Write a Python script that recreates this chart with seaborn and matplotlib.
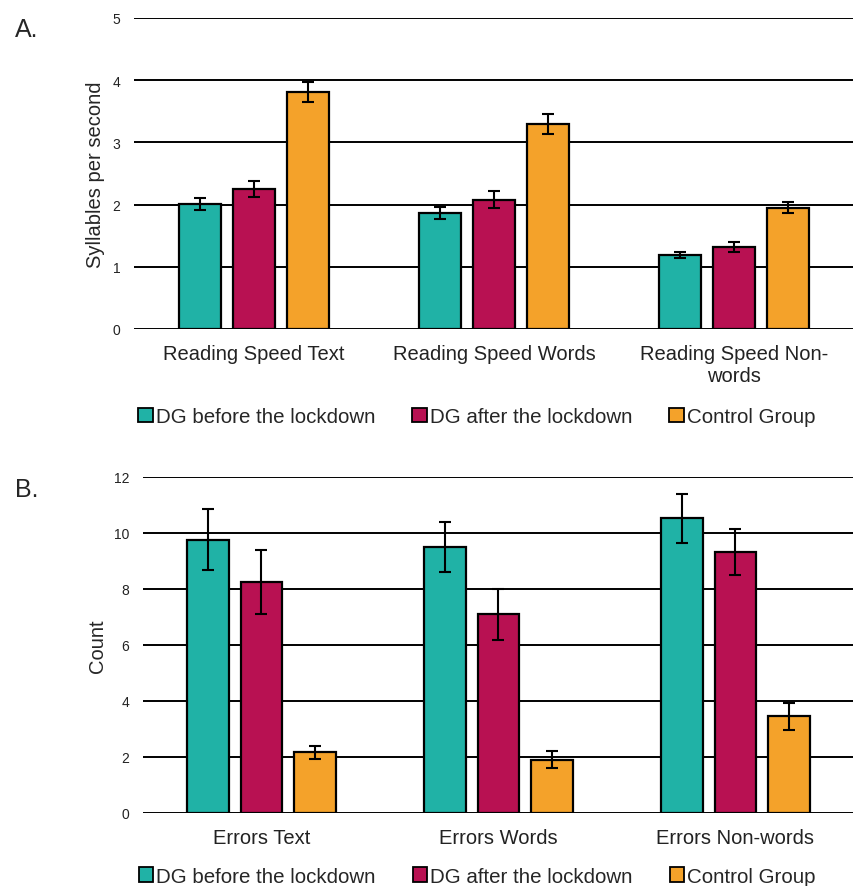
import matplotlib
matplotlib.use("Agg")
import matplotlib.pyplot as plt
from matplotlib.patches import Patch
import seaborn as sns
import pandas as pd
import numpy as np

# Datos
grupos = ["DG before the lockdown", "DG after the lockdown", "Control Group"]
colores = ["#20B2A6", "#B81152", "#F4A22A"]

cat_a = ["Reading Speed Text", "Reading Speed Words", "Reading Speed Non-\nwords"]
media_antes_a = [2.01, 1.86, 1.19]
media_despues_a = [2.25, 2.08, 1.32]
media_control_a = [3.81, 3.30, 1.95]
err_antes_a = [0.09, 0.10, 0.05]
err_despues_a = [0.13, 0.14, 0.08]
err_control_a = [0.16, 0.16, 0.09]

cat_b = ["Errors Text", "Errors Words", "Errors Non-words"]
media_antes_b = [9.76, 9.49, 10.52]
media_despues_b = [8.25, 7.09, 9.31]
media_control_b = [2.16, 1.90, 3.45]
err_antes_b = [1.09, 0.89, 0.87]
err_despues_b = [1.15, 0.90, 0.83]
err_control_b = [0.24, 0.31, 0.47]

sns.set_theme(style="white")
plt.rcParams['font.family'] = ['Liberation Sans', 'DejaVu Sans']


def panel(ax, categorias, medias, errores, ylabel, ymax, paso, ley_x, ley_y):
    filas = []
    for g, m, e in zip(grupos, medias, errores):
        for c, v, s in zip(categorias, m, e):
            filas.append({"cat": c, "grupo": g, "valor": v, "err": s})
    df = pd.DataFrame(filas)

    sns.barplot(data=df, x="cat", y="valor", hue="grupo", order=categorias,
                hue_order=grupos, palette=colores, saturation=1,
                width=0.675, gap=0.22, edgecolor="black", linewidth=1.6,
                errorbar=None, ax=ax, legend=False, zorder=3)

    # barras de error en el centro de cada barra
    for i, g in enumerate(grupos):
        cont = ax.containers[i]
        xs = [p.get_x() + p.get_width() / 2 for p in cont.patches]
        sub = df[df.grupo == g]
        ax.errorbar(xs, sub["valor"], yerr=sub["err"], fmt="none",
                    ecolor="black", elinewidth=1.5, capsize=4, capthick=1.5,
                    zorder=4)

    ax.set_ylim(0, ymax)
    ax.set_yticks(np.arange(0, ymax + 0.01, paso))
    ax.set_xlim(-0.5, 2.5)
    ax.yaxis.grid(True, color="black", linewidth=1.4)
    ax.set_axisbelow(True)
    for s in ax.spines.values():
        s.set_visible(False)
    ax.tick_params(axis="y", length=0, pad=10, labelsize=10, colors="#222222")
    ax.tick_params(axis="x", length=0, pad=11, labelsize=14.5, colors="#222222")
    ax.set_xlabel("")
    ax.set_ylabel(ylabel, fontsize=14.5, labelpad=5)

    manejadores = [Patch(facecolor=c, edgecolor="black", linewidth=1.3, label=g)
                   for c, g in zip(colores, grupos)]
    ax.legend(handles=manejadores, loc="center", bbox_to_anchor=(ley_x, ley_y),
              ncol=3, frameon=False, fontsize=14.8, handlelength=0.7,
              handleheight=0.7, handletextpad=0.15, columnspacing=1.8)


fig = plt.figure(figsize=(8.54, 8.87), dpi=100)
ax1 = fig.add_axes([0.157, 0.628, 0.843, 0.3506])
ax2 = fig.add_axes([0.1674, 0.0823, 0.8326, 0.379])

panel(ax1, cat_a, [media_antes_a, media_despues_a, media_control_a],
      [err_antes_a, err_despues_a, err_control_a],
      "Syllables per second", 5, 1, 0.476, -0.283)
panel(ax2, cat_b, [media_antes_b, media_despues_b, media_control_b],
      [err_antes_b, err_despues_b, err_control_b],
      "Count", 12, 2, 0.47, -0.1875)

fig.text(0.017, 0.966, "A.", fontsize=18, va="center")
fig.text(0.017, 0.448, "B.", fontsize=18, va="center")

fig.savefig("out.png", dpi=100, facecolor="white")
